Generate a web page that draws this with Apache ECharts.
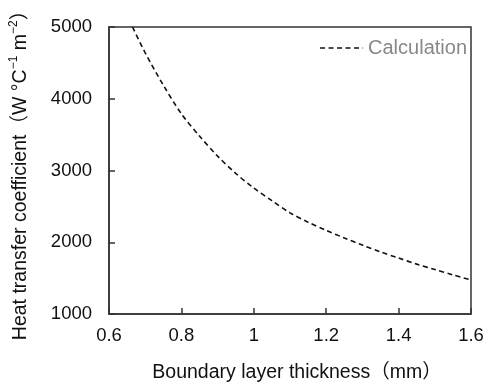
<!DOCTYPE html>
<html>
<head>
<meta charset="utf-8">
<script src="https://cdn.jsdelivr.net/npm/echarts@6/dist/echarts.min.js"></script>
<style>
  html, body { margin: 0; padding: 0; background: #fff; }
  #chart { width: 484px; height: 385px; }
</style>
</head>
<body>
<div id="chart"></div>
<script>
// Boundary layer thickness (mm) and calculated heat transfer coefficient (W °C-1 m-2)
const thickness = [0.665, 0.7, 0.75, 0.8, 0.85, 0.9, 0.95, 1.0, 1.05, 1.1, 1.15, 1.2,
                   1.25, 1.3, 1.35, 1.4, 1.45, 1.5, 1.55, 1.6];
const coefficient = [5000, 4640, 4190, 3790, 3480, 3200, 2960, 2755, 2580, 2410, 2280, 2165,
                     2060, 1960, 1865, 1780, 1695, 1620, 1545, 1475];
const seriesName = 'Calculation';
const xTitle = 'Boundary layer thickness（mm）';

const points = thickness.map((t, i) => [t, coefficient[i]]);

const axisColor = '#333';
const textColor = '#111';
const font = '"Liberation Sans", Arial, "Noto Sans CJK JP", sans-serif';

const chart = echarts.init(document.getElementById('chart'), null, { renderer: 'canvas' });
chart.setOption({
  animation: false,
  backgroundColor: '#fff',
  grid: {
    left: 109, right: 13, top: 27, bottom: 71,
    outerBoundsMode: 'none',
    containLabel: false,
    show: true, borderColor: axisColor, borderWidth: 1.5, backgroundColor: 'transparent'
  },
  legend: {
    right: 12, top: 33, padding: 5,
    itemWidth: 43, itemHeight: 14,
    itemStyle: { color: 'transparent', borderWidth: 0, opacity: 0 },
    lineStyle: { color: textColor, width: 1.6, type: [5, 3.5] },
    textStyle: { color: '#888', fontSize: 20, fontFamily: font },
    data: [seriesName]
  },
  xAxis: {
    type: 'value', min: 0.6, max: 1.6, interval: 0.2,
    name: xTitle, nameLocation: 'middle', nameGap: 49,
    nameTextStyle: { color: textColor, fontSize: 19.5, fontFamily: font, padding: [0, 0, 0, 14] },
    axisLine: { show: true, lineStyle: { color: axisColor, width: 1.5 } },
    axisTick: { show: true, inside: true, length: 6, lineStyle: { color: axisColor, width: 1.5 } },
    axisLabel: {
      color: textColor, fontSize: 18.5, fontFamily: font, margin: 13,
      formatter: v => String(Math.round(v * 10) / 10)
    },
    splitLine: { show: false }
  },
  yAxis: {
    type: 'value', min: 1000, max: 5000, interval: 1000,
    name: '{a|Heat transfer coefficient（W °C}{s|−1}{a| m}{s|−2}{a|）}',
    nameLocation: 'middle', nameGap: 79, nameRotate: 90,
    nameTextStyle: {
      rich: {
        a: { color: textColor, fontSize: 19.5, fontFamily: font, verticalAlign: 'bottom', lineHeight: 22 },
        s: { color: textColor, fontSize: 12, fontFamily: font, verticalAlign: 'top', lineHeight: 22 }
      }
    },
    axisLine: { show: true, lineStyle: { color: axisColor, width: 1.5 } },
    axisTick: { show: true, inside: true, length: 6, lineStyle: { color: axisColor, width: 1.5 } },
    axisLabel: {
      color: textColor, fontSize: 18.5, fontFamily: font, margin: 17,
      formatter: v => String(v)
    },
    splitLine: { show: false }
  },
  series: [{
    name: seriesName,
    type: 'line',
    data: points,
    smooth: 0.3,
    symbol: 'none',
    showSymbol: false,
    color: textColor,
    lineStyle: { color: textColor, width: 1.6, type: [5, 3.5] }
  }]
});
</script>
</body>
</html>
